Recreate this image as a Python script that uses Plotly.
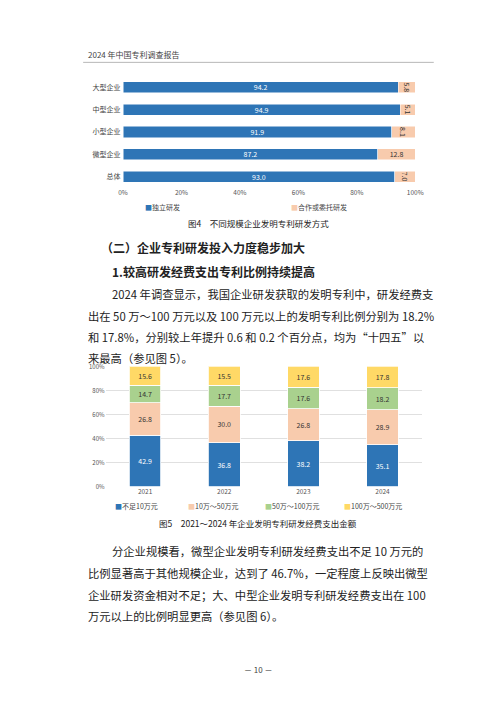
import plotly.graph_objects as go

# 图4 data
sizes = ['大型企业', '中型企业', '小型企业', '微型企业', '总体']
self_rd = [94.2, 94.9, 91.9, 87.2, 93.0]
coop_rd = [5.8, 5.1, 8.1, 12.8, 7.0]

# 图5 data
years = ['2021', '2022', '2023', '2024']
lt10 = [42.9, 36.8, 38.2, 35.1]
r10_50 = [26.8, 30.0, 26.8, 28.9]
r50_100 = [14.7, 17.7, 17.6, 18.2]
r100_500 = [15.6, 15.5, 17.6, 17.8]

W, H = 500, 707
FONT = 'Noto Sans CJK SC'
BLUE, PEACH, GREEN, YELLOW = '#2E75B6', '#F8CBAD', '#A9D18E', '#FFD966'

def py(y):
    return 1 - y / H

fig = go.Figure()

fig.add_trace(go.Bar(y=sizes, x=self_rd, orientation='h', marker_color=BLUE,
                     marker_line=dict(color='white', width=0.5),
                     text=[f'{v:.1f}' for v in self_rd], textposition='inside',
                     insidetextanchor='middle', textfont=dict(color='white', size=7),
                     constraintext='none', width=0.5, xaxis='x', yaxis='y'))
fig.add_trace(go.Bar(y=sizes, x=coop_rd, orientation='h', marker_color=PEACH,
                     marker_line=dict(color='white', width=0.5),
                     text=[f'{v:.1f}' for v in coop_rd], textposition='inside',
                     insidetextanchor='middle', textfont=dict(color='#333', size=7),
                     constraintext='none', width=0.5, xaxis='x', yaxis='y'))

for vals, col, tc in [(lt10, BLUE, 'white'), (r10_50, PEACH, '#333'),
                      (r50_100, GREEN, '#333'), (r100_500, YELLOW, '#333')]:
    fig.add_trace(go.Bar(x=years, y=vals, marker_color=col,
                         marker_line=dict(color='white', width=0.8),
                         text=[f'{v:.1f}' for v in vals], textposition='inside',
                         insidetextanchor='middle', textfont=dict(color=tc, size=7),
                         constraintext='none', width=0.4, xaxis='x2', yaxis='y2'))

fig.update_layout(
    width=W, height=H, margin=dict(l=0, r=0, t=0, b=0),
    paper_bgcolor='white', plot_bgcolor='white', barmode='stack', showlegend=False,
    font=dict(family=FONT, color='#222'),
    xaxis=dict(domain=[113 / W, 413 / W], range=[0, 100], tickvals=[0, 20, 40, 60, 80, 100],
               ticktext=['0%', '20%', '40%', '60%', '80%', '100%'], showgrid=False,
               tickfont=dict(size=6.5, color='#555'), zeroline=False, fixedrange=True),
    yaxis=dict(domain=[py(177), py(64)], autorange='reversed', showgrid=False,
               tickfont=dict(size=7, color='#444'), ticksuffix=' '),
    xaxis2=dict(domain=[95 / W, 420 / W], anchor='y2', showgrid=False,
                tickfont=dict(size=6.5, color='#555')),
    yaxis2=dict(domain=[py(480), py(358)], anchor='x2', range=[0, 100],
                tickvals=[0, 20, 40, 60, 80, 100],
                ticktext=['0%', '20%', '40%', '60%', '80%', '100%'],
                showgrid=True, gridcolor='#e0e0e0', gridwidth=0.6,
                tickfont=dict(size=6, color='#555'), zeroline=False),
)

ann = []
def txt(x, y, s, size=12.5, color='#222', anchor='left', bold=False):
    if bold:
        s = f'<b>{s}</b>'
    ann.append(dict(x=x / W, y=py(y), xref='paper', yref='paper', text=s, showarrow=False,
                    xanchor=anchor, yanchor='middle', font=dict(size=size, color=color, family=FONT)))

txt(75, 42, '2024 年中国专利调查报告', size=8, color='#444')
fig.add_shape(type='line', xref='paper', yref='paper', x0=72 / W, x1=432 / W,
              y0=py(50), y1=py(50), line=dict(color='#888', width=0.6))

# 图4 legend & caption
txt(133, 197, '<span style="color:%s">■</span>独立研发' % BLUE, size=7, color='#444')
txt(283, 197, '<span style="color:%s">■</span>合作或委托研发' % PEACH, size=7, color='#444')
txt(252, 213, '图4　不同规模企业发明专利研发方式', size=8.5, anchor='center')

txt(88, 238, '（二）企业专利研发投入力度稳步加大', size=12, bold=True)
txt(100, 262, '1.较高研发经费支出专利比例持续提高', size=12, bold=True)

para1 = ['2024 年调查显示，我国企业研发获取的发明专利中，研发经费支',
         '出在 50 万～100 万元以及 100 万元以上的发明专利比例分别为 18.2%',
         '和 17.8%，分别较上年提升 0.6 和 0.2 个百分点，均为“十四五”以',
         '来最高（参见图 5）。']
for i, line in enumerate(para1):
    txt(100 if i == 0 else 75, 285 + i * 21.5, line, size=11.3)

# 图5 legend & caption
leg = [('不足10万元', BLUE, 103), ('10万～50万元', PEACH, 178),
       ('50万～100万元', GREEN, 257), ('100万～500万元', YELLOW, 338)]
for name, col, x in leg:
    txt(x, 499, '<span style="color:%s">■</span>%s' % (col, name), size=7, color='#444')
txt(252, 517, '图5　2021～2024 年企业发明专利研发经费支出金额', size=8.5, anchor='center')

para2 = ['分企业规模看，微型企业发明专利研发经费支出不足 10 万元的',
         '比例显著高于其他规模企业，达到了 46.7%，一定程度上反映出微型',
         '企业研发资金相对不足；大、中型企业发明专利研发经费支出在 100',
         '万元以上的比例明显更高（参见图 6）。']
for i, line in enumerate(para2):
    txt(100 if i == 0 else 75, 545 + i * 22, line, size=11.3)

txt(252, 665, '－ 10 －', size=8, color='#444', anchor='center')

fig.update_layout(annotations=ann)
fig.write_html('out.html')
